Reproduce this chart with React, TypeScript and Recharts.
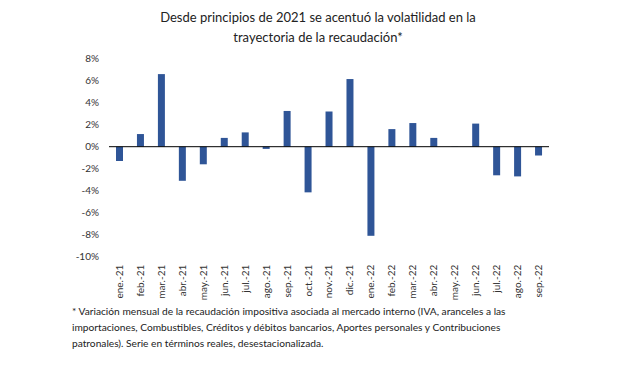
import React from 'react';
import { BarChart, Bar, XAxis, YAxis, ReferenceLine } from 'recharts';

const months = [
  'ene.-21', 'feb.-21', 'mar.-21', 'abr.-21', 'may.-21', 'jun.-21', 'jul.-21',
  'ago.-21', 'sep.-21', 'oct.-21', 'nov.-21', 'dic.-21', 'ene.-22', 'feb.-22',
  'mar.-22', 'abr.-22', 'may.-22', 'jun.-22', 'jul.-22', 'ago.-22', 'sep.-22'
];

const variation = [
  -1.3, 1.15, 6.6, -3.1, -1.6, 0.8, 1.3, -0.2, 3.25, -4.15, 3.2,
  6.15, -8.1, 1.6, 2.15, 0.8, 0.02, 2.1, -2.6, -2.7, -0.8
];

const yTicks = [-10, -8, -6, -4, -2, 0, 2, 4, 6, 8];

const data = months.map((m, i) => ({ month: m, value: variation[i] }));

const font = 'Lato, "Open Sans", sans-serif';

const MonthTick = ({ x, y, payload }: any) => (
  <text
    x={x}
    y={y + 8}
    transform={`rotate(-90, ${x}, ${y + 8})`}
    textAnchor="end"
    dy="0.35em"
    fontSize={10}
    fontFamily={font}
    fill="#333"
  >
    {payload.value}
  </text>
);

const App: React.FC = () => {
  return (
    <div style={{ position: 'absolute', left: 0, top: 0, width: 636, height: 383, background: '#fff', fontFamily: font, color: '#222' }}>
      <div style={{ position: 'absolute', left: 0, top: 7, width: 636, textAlign: 'center', fontSize: 13, lineHeight: '20px' }}>
        Desde principios de 2021 se acentuó la volatilidad en la
        <br />
        trayectoria de la recaudación*
      </div>
      <div style={{ position: 'absolute', left: 0, top: 0 }}>
        <BarChart
          width={636}
          height={300}
          data={data}
          margin={{ top: 58.7, right: 87, left: 0, bottom: 0 }}
          barCategoryGap={0}
        >
          <XAxis
            dataKey="month"
            interval={0}
            axisLine={false}
            tickLine={false}
            tickSize={0}
            tickMargin={0}
            height={43.3}
            tick={<MonthTick />}
          />
          <YAxis
            domain={[-10, 8]}
            ticks={yTicks}
            width={109}
            axisLine={false}
            tickLine={false}
            tickMargin={4}
            tickFormatter={(v) => `${v}%`}
            tick={{ fontSize: 10, fontFamily: font, fill: '#333' }}
          />
          <ReferenceLine y={0} stroke="#000" strokeWidth={1} />
          <Bar dataKey="value" fill="#2f5597" barSize={7} isAnimationActive={false} />
        </BarChart>
      </div>
      <div style={{ position: 'absolute', left: 72, top: 303, width: 540, fontSize: 10.2, lineHeight: '16px' }}>
        * Variación mensual de la recaudación impositiva asociada al mercado interno (IVA, aranceles a las
        <br />
        importaciones, Combustibles, Créditos y débitos bancarios, Aportes personales y Contribuciones
        <br />
        patronales). Serie en términos reales, desestacionalizada.
      </div>
    </div>
  );
};

export default App;
